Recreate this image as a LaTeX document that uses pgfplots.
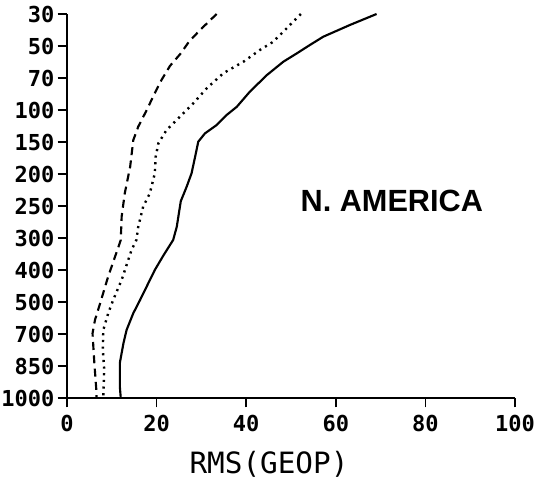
\documentclass[border=0pt]{standalone}
\usepackage{fontspec}
\setmainfont{DejaVu Sans Mono}
\newfontfamily\helv{Liberation Sans}
\usepackage{pgfplots}
\pgfplotsset{compat=1.18}
\begin{document}
\begin{tikzpicture}[x=1pt,y=1pt]
\begin{axis}[
  scale only axis,
  width=336pt, height=288pt,
  xmin=0, xmax=100, ymin=0, ymax=12,
  y dir=reverse,
  axis lines=left,
  axis line style={-, line width=1.5pt},
  xtick={0,20,40,60,80,100},
  ytick={0,...,12},
  yticklabels={30,50,70,100,150,200,250,300,400,500,700,850,1000},
  tick align=outside,
  major tick length=7pt,
  tick style={line width=1.3pt, black},
  /pgf/number format/assume math mode=true,
  ticklabel style={font=\fontsize{16.5}{16.5}\selectfont\bfseries},
  yticklabel style={xshift=1pt},
  xticklabel style={yshift=-2pt},
  xlabel={RMS(GEOP)},
  xlabel style={font=\fontsize{22}{22}\selectfont, yshift=-8pt, xshift=-16.5pt},
  clip=false,
]
\addplot[black, line width=1.6pt] coordinates {
(69.1,0) (63.2,0.34) (57.2,0.71) (54.2,0.97) (51.3,1.23) (48.3,1.49) (44.6,1.91)
(40.8,2.43) (37.9,2.9) (35.6,3.16) (33.4,3.47) (30.8,3.73) (29.3,3.99) (28.6,4.46)
(27.8,4.98) (26.7,5.4) (25.4,5.85) (24.5,6.65) (23.7,7.06) (21.5,7.55) (19.6,8)
(16.3,8.94) (14.8,9.35) (13.3,9.875) (12.6,10.29) (11.8,10.9) (11.8,11.65) (12,12)
};
\addplot[black, line width=1.6pt, dash pattern=on 6pt off 4pt] coordinates {
(33.4,0) (29.7,0.5) (27.2,0.87) (25.4,1.23) (23,1.62) (21.1,2.06) (19.5,2.5)
(17.8,3) (15.9,3.52) (14.8,3.94) (14.1,4.77) (12.9,5.6) (12.2,6.33) (12,7.06)
(11.5,7.27) (9.2,8.2) (7.4,9.04) (6.25,9.56) (5.7,9.98) (6.1,10.9) (6.6,11.85) (6.6,12)
};
\addplot[black, line width=1.8pt, dash pattern=on 1.6pt off 3.4pt] coordinates {
(52.2,0) (50.5,0.24) (48.3,0.55) (46,0.87) (43.1,1.12) (39.4,1.49) (34.9,1.85)
(31.2,2.32) (28.2,2.79) (25.2,3.21) (22.2,3.63) (20.4,4.04) (19.8,4.46) (19.6,4.98)
(18.5,5.6) (17,6.02) (15.9,6.65) (15.5,7.06) (14.4,7.375) (12.2,8.31) (10.3,8.94)
(9.2,9.35) (8.1,9.875) (8,10.5) (8.3,11.1) (8.1,12)
};
\node[font=\helv\fontsize{23}{23}\selectfont\bfseries] at (axis cs:72.5,5.85) {N. AMERICA};
\end{axis}
\pgfresetboundingbox
\path[use as bounding box] (current axis.south west) ++(-50.25pt,-65.25pt) rectangle ([shift={(15.75pt,10.5pt)}]current axis.north east);
\end{tikzpicture}
\end{document}
